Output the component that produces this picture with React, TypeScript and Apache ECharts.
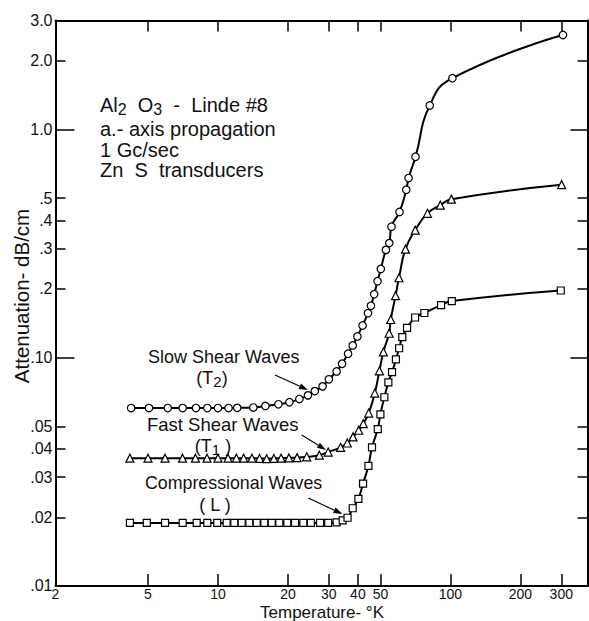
import React, { useEffect, useRef } from "react";
import * as echarts from "echarts";

// ---- Data ----
const slowT = [4.23, 5.05, 6.08, 7.05, 8.04, 9.0, 10.0, 11.1, 12.1, 14.2, 16.0, 18.2, 20.3, 22.4, 24.4, 26.1, 28.2, 30.0, 32.4, 34.2, 36.3, 38.0, 39.8, 41.9, 44.2, 45.5, 47.0, 48.6, 50.2, 52.8, 54.6, 55.8, 60.4, 64.6, 66.1, 70.8, 81.5, 102, 305];
const slowA = [0.0602, 0.0602, 0.0602, 0.0602, 0.0602, 0.0602, 0.0602, 0.0602, 0.0603, 0.0605, 0.0615, 0.0625, 0.0638, 0.0659, 0.0684, 0.0714, 0.0749, 0.0804, 0.0871, 0.0941, 0.1041, 0.1132, 0.1239, 0.1384, 0.1567, 0.1688, 0.1897, 0.2163, 0.2449, 0.2967, 0.3177, 0.375, 0.4352, 0.5443, 0.6124, 0.759, 1.274, 1.676, 2.592];

const fastT = [4.18, 5.0, 5.92, 7.04, 8.0, 8.97, 10.0, 11.05, 12.0, 12.9, 14.0, 15.1, 16.2, 17.4, 18.7, 20.2, 21.9, 24.1, 27.3, 29.8, 33.7, 36.0, 38.1, 40.3, 42.2, 44.5, 47.3, 49.5, 51.5, 54.5, 55.4, 58.1, 60.1, 64.1, 70.6, 79.7, 90.5, 101, 301];
const fastA = [0.0363, 0.0363, 0.0363, 0.0363, 0.0363, 0.0363, 0.0363, 0.0363, 0.0363, 0.0363, 0.0363, 0.0362, 0.0361, 0.0362, 0.0363, 0.0364, 0.0365, 0.0368, 0.0374, 0.0386, 0.0405, 0.0423, 0.0450, 0.0481, 0.0514, 0.0572, 0.0700, 0.0876, 0.106, 0.128, 0.147, 0.187, 0.224, 0.299, 0.362, 0.429, 0.466, 0.495, 0.573];

const compT = [4.18, 4.94, 5.92, 7.05, 8.1, 9.0, 9.93, 10.9, 11.76, 12.65, 13.65, 14.68, 15.83, 17.04, 18.36, 19.88, 21.46, 23.3, 25.1, 27.5, 29.8, 32.4, 34.4, 36.1, 38.0, 40.2, 42.1, 44.4, 46.0, 48.7, 50.0, 52.0, 54.1, 56.1, 58.3, 60.2, 62.1, 65.1, 70.5, 77.3, 91.2, 101.4, 298.5];
const compA = [0.0189, 0.0189, 0.0189, 0.0189, 0.0189, 0.0189, 0.0189, 0.0189, 0.0189, 0.0189, 0.0189, 0.0189, 0.0189, 0.0189, 0.0189, 0.0189, 0.0189, 0.0189, 0.0189, 0.0189, 0.0189, 0.0190, 0.0194, 0.0199, 0.0219, 0.0241, 0.0281, 0.0336, 0.0405, 0.0487, 0.0565, 0.0671, 0.0780, 0.0865, 0.0983, 0.110, 0.123, 0.135, 0.150, 0.157, 0.170, 0.177, 0.197];

// ---- Tick labels ----
const xTickVals = [5, 10, 20, 30, 40, 50, 100, 200, 300];
const xLabelVals = [2, 5, 10, 20, 30, 40, 50, 100, 200, 300];
const xLabelText = ["2", "5", "10", "20", "30", "40", "50", "100", "200", "300"];
const yShortTicks = [0.02, 0.03, 0.04, 0.05, 0.2, 0.3, 0.4, 0.5, 2];
const yLongTicks = [0.1, 1];
const yLabelVals = [0.01, 0.02, 0.03, 0.04, 0.05, 0.1, 0.2, 0.3, 0.4, 0.5, 1, 2, 3];
const yLabelText = [".01", ".02", ".03", ".04", ".05", ".10", ".2", ".3", ".4", ".5", "1.0", "2.0", "3.0"];

const FONT = "Liberation Sans";

function pickLabel(v: number, vals: number[], texts: string[]) {
  for (let i = 0; i < vals.length; i++) {
    if (Math.abs(Math.log10(v) - Math.log10(vals[i])) < 1e-4) return texts[i];
  }
  return "";
}

function arrow(x1: number, y1: number, x2: number, y2: number) {
  const dx = x2 - x1, dy = y2 - y1;
  const L = Math.hypot(dx, dy);
  const ux = dx / L, uy = dy / L;
  const nx = -uy, ny = ux;
  const hl = 9, hw = 3;
  const bx = x2 - ux * hl, by = y2 - uy * hl;
  return [
    { type: "line", shape: { x1, y1, x2: bx, y2: by }, style: { stroke: "#000", lineWidth: 1.2 } },
    {
      type: "polygon",
      shape: { points: [[x2, y2], [bx + nx * hw, by + ny * hw], [bx - nx * hw, by - ny * hw]] },
      style: { fill: "#000" },
    },
  ];
}

function txt(text: string, x: number, y: number, size: number, align = "left", rotation = 0, subSize = 0) {
  const style: any = {
    text,
    fontFamily: FONT,
    fontSize: size,
    fill: "#111",
    textAlign: align,
    textVerticalAlign: "middle",
  };
  if (subSize) {
    style.rich = {
      a: { fontFamily: FONT, fontSize: size, lineHeight: size + 2, fill: "#111", verticalAlign: "top" },
      s: { fontFamily: FONT, fontSize: subSize, lineHeight: subSize, fill: "#111", verticalAlign: "bottom" },
    };
  }
  return { type: "text", x, y, rotation, style };
}

const XMIN = 1.9999, XMAX = 389;
const YMIN = 0.009999, YMAX = 3.0001;

function xAxisCfg(pos: string, labels: boolean, tickLen: number) {
  return {
    type: "log",
    logBase: 10,
    min: XMIN,
    max: XMAX,
    position: pos,
    axisLine: { show: true, onZero: false, lineStyle: { color: "#000", width: 2 } },
    axisTick: { show: true, inside: true, length: tickLen, customValues: xTickVals, lineStyle: { color: "#000", width: 1.5 } },
    axisLabel: labels
      ? {
          show: true,
          customValues: xLabelVals,
          formatter: (v: number) => pickLabel(v, xLabelVals, xLabelText),
          margin: 1,
          color: "#111",
          fontSize: 14,
          lineHeight: 14,
          fontFamily: FONT,
        }
      : { show: false },
    splitLine: { show: false },
    minorTick: { show: false },
  };
}

function yAxisCfg(pos: string, labels: boolean, ticks: number[], tickLen: number, line: boolean) {
  return {
    type: "log",
    logBase: 10,
    min: YMIN,
    max: YMAX,
    position: pos,
    axisLine: { show: line, onZero: false, lineStyle: { color: "#000", width: 2 } },
    axisTick: { show: true, inside: true, length: tickLen, customValues: ticks, lineStyle: { color: "#000", width: 1.5 } },
    axisLabel: labels
      ? {
          show: true,
          customValues: yLabelVals,
          formatter: (v: number) => pickLabel(v, yLabelVals, yLabelText),
          margin: 3,
          color: "#111",
          fontSize: 16,
          fontFamily: FONT,
        }
      : { show: false },
    splitLine: { show: false },
    minorTick: { show: false },
  };
}

function lineSeries(name: string, T: number[], A: number[], symbol: string, size: number) {
  return {
    name,
    type: "line",
    xAxisIndex: 0,
    yAxisIndex: 0,
    data: T.map((t, i) => [t, A[i]]),
    smooth: 0.5,
    symbol,
    symbolSize: size,
    showSymbol: true,
    showAllSymbol: true,
    lineStyle: { color: "#000", width: 2 },
    itemStyle: { color: "#fff", borderColor: "#000", borderWidth: 1.2 },
    z: 3,
  };
}

export default function App() {
  const ref = useRef<HTMLDivElement>(null);
  useEffect(() => {
    if (!ref.current) return;
    const chart = echarts.init(ref.current, undefined, { renderer: "svg" });
    const option: any = {
      animation: false,
      backgroundColor: "#fff",
      grid: { left: 55.5, right: 1.5, top: 20.5, bottom: 35, containLabel: false, outerBoundsMode: "none" },
      xAxis: [xAxisCfg("bottom", true, 12), xAxisCfg("top", false, 11)],
      yAxis: [
        yAxisCfg("left", true, yShortTicks, 10, true),
        yAxisCfg("left", false, yLongTicks, 19, false),
        yAxisCfg("right", false, yShortTicks, 10, true),
        yAxisCfg("right", false, yLongTicks, 17, false),
      ],
      series: [
        lineSeries("Slow Shear Waves (T2)", slowT, slowA, "circle", 7.5),
        lineSeries("Fast Shear Waves (T1)", fastT, fastA, "triangle", 8),
        lineSeries("Compressional Waves (L)", compT, compA, "rect", 7),
      ],
      graphic: [
        txt("{a|Al}{s|2}  {a|O}{s|3}{a|  -  Linde #8}", 100, 106, 20, "left", 0, 16),
        txt("a.- axis propagation", 100, 129, 20),
        txt("1 Gc/sec", 100, 150, 20),
        txt("Zn  S  transducers", 100, 170, 20),
        txt("Slow Shear Waves", 148, 357, 18),
        txt("{a|(T}{s|2}{a|)}", 212, 379, 18, "center", 0, 15),
        txt("Fast Shear Waves", 147, 424, 18.5),
        txt("{a|(T}{s|1}{a| )}", 213, 447, 18, "center", 0, 15),
        txt("Compressional Waves", 145, 483, 17.8),
        txt("( L )", 215, 505, 18, "center"),
        txt("Temperature- \u00b0K", 322, 612.5, 17, "center"),
        txt("Attenuation- dB/cm", 21, 296, 20.5, "center", Math.PI / 2),
        ...arrow(275, 375, 308, 390),
        ...arrow(301.7, 435, 326, 450),
        ...arrow(308.3, 498, 342.5, 514),
      ],
    };
    chart.setOption(option);
    return () => chart.dispose();
  }, []);
  return (
    <div
      ref={ref}
      style={{ position: "fixed", left: 0, top: 0, width: 589, height: 621, background: "#fff" }}
    />
  );
}
